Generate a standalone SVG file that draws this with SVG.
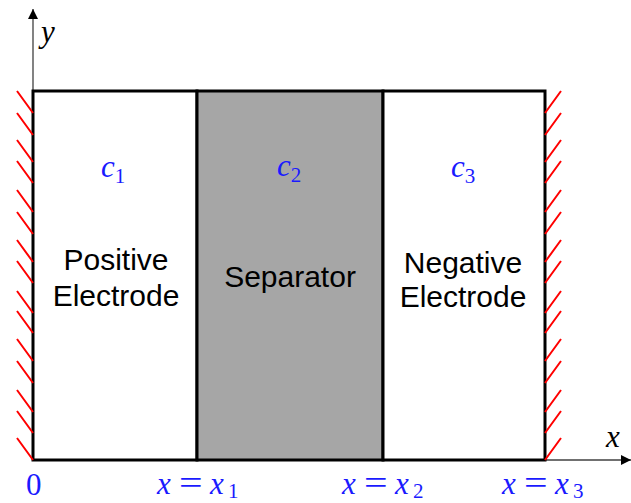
<svg xmlns="http://www.w3.org/2000/svg" width="631" height="503" viewBox="0 0 631 503">
<style>
.box{fill:#ffffff;stroke:#000000;stroke-width:3}
.sep{fill:#a6a6a6;stroke:#000000;stroke-width:3}
.lbl{font-family:"Liberation Sans",Arial,sans-serif;font-size:30px;fill:#000000;text-anchor:middle}
.m{font-family:"Liberation Serif","Times New Roman",serif;font-size:31px;fill:#1a1aff}
.mk{font-family:"Liberation Serif","Times New Roman",serif;font-size:31px;fill:#000000;font-style:italic}
.i{font-style:italic}
.sub{font-size:21px}
.axis{stroke:#404040;stroke-width:1.3;fill:none}
.hatch{stroke:#ff0000;stroke-width:2;fill:none}
</style>
<defs>
<marker id="arr" viewBox="0 0 10 10" refX="10" refY="5" markerWidth="10" markerHeight="10" markerUnits="userSpaceOnUse" orient="auto">
<path d="M0,0 L10,5 L0,10 z" fill="#000000"/>
</marker>
</defs>
<g id="connectors">
<line class="axis" x1="33" y1="91" x2="33" y2="9" marker-end="url(#arr)"/>
<line class="axis" x1="545" y1="460" x2="631" y2="460" marker-end="url(#arr)"/>
</g>
<g id="positive-electrode">
<rect class="box" x="33" y="91" width="164" height="369"/>
<text class="lbl" x="116" y="270">Positive</text>
<text class="lbl" x="116" y="306">Electrode</text>
<text class="m" x="101" y="177"><tspan class="i">c</tspan><tspan class="sub" dy="6">1</tspan></text>
</g>
<g id="separator">
<rect class="sep" x="197" y="91" width="186" height="369"/>
<text class="lbl" x="290" y="287">Separator</text>
<text class="m" x="277" y="176"><tspan class="i">c</tspan><tspan class="sub" dy="6">2</tspan></text>
</g>
<g id="negative-electrode">
<rect class="box" x="383" y="91" width="162" height="369"/>
<text class="lbl" x="463" y="273">Negative</text>
<text class="lbl" x="463" y="307">Electrode</text>
<text class="m" x="451" y="177"><tspan class="i">c</tspan><tspan class="sub" dy="6">3</tspan></text>
</g>
<g id="walls">
<path class="hatch" d="M17,91 L33,113 M17,113 L33,135 M17,140 L33,162 M17,161 L33,183 M17,190 L33,212 M17,212 L33,234 M17,240 L33,262 M17,261 L33,283 M17,291 L33,313 M17,311 L33,333 M17,339 L33,361 M17,361 L33,383 M17,390 L33,412 M17,411 L33,433 M17,438 L33,460"/>
<path class="hatch" d="M545,113 L561,91 M545,135 L561,113 M545,162 L561,140 M545,183 L561,161 M545,212 L561,190 M545,234 L561,212 M545,262 L561,240 M545,283 L561,261 M545,313 L561,291 M545,333 L561,311 M545,361 L561,339 M545,383 L561,361 M545,412 L561,390 M545,433 L561,411 M545,460 L561,438"/>
</g>
<g id="labels">
<text class="mk" x="41" y="42">y</text>
<text class="mk" x="606" y="447">x</text>
<text class="m" x="26" y="495" font-size="27">0</text>
<g id="label-x1">
<text class="m" y="494"><tspan class="i" x="157">x</tspan><tspan class="i" x="210">x</tspan><tspan class="sub" x="228" dy="4">1</tspan></text>
<text class="m" transform="translate(179,494) scale(1.35,1.1)">=</text>
</g>
<g id="label-x2">
<text class="m" y="494"><tspan class="i" x="342">x</tspan><tspan class="i" x="395">x</tspan><tspan class="sub" x="413" dy="4">2</tspan></text>
<text class="m" transform="translate(364,494) scale(1.35,1.1)">=</text>
</g>
<g id="label-x3">
<text class="m" y="494"><tspan class="i" x="502">x</tspan><tspan class="i" x="555">x</tspan><tspan class="sub" x="573" dy="4">3</tspan></text>
<text class="m" transform="translate(524,494) scale(1.35,1.1)">=</text>
</g>
</g>
</svg>
